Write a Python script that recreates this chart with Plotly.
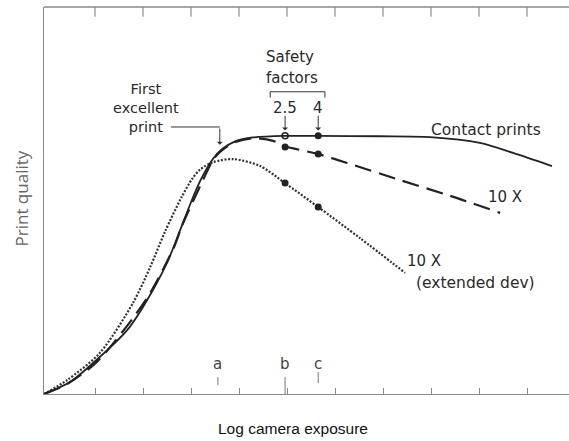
import plotly.graph_objects as go

# ---------------- data ----------------
# x: log camera exposure (one unit per tick), y: print quality (0-100)
contact_x = [-0.06, 0.48, 0.96, 1.67, 2.0, 2.5, 2.81, 3.08, 3.25, 3.46, 3.65, 3.92, 4.29, 4.96, 5.65, 6.94, 7.98, 9.02, 9.71, 10.52]
contact_y = [0, 3.1, 8.0, 16.5, 22.5, 33.9, 43.5, 52.0, 56.5, 60.8, 63.3, 65.3, 66.3, 66.7, 66.7, 66.6, 66.4, 64.9, 62.3, 58.9]

tenx_x = [-0.06, 0.42, 1.04, 1.79, 2.15, 2.63, 2.83, 3.25, 3.46, 3.6, 3.88, 4.29, 4.71, 4.96, 5.65, 6.25, 7.35, 8.4, 9.44]
tenx_y = [0, 2.6, 8.3, 19.6, 26.1, 37.5, 44.0, 55.3, 60.5, 62.5, 64.9, 66.1, 65.4, 64.0, 62.0, 59.7, 55.3, 51.2, 46.8]

ext_x = [-0.06, 0.42, 1.1, 1.79, 2.15, 2.46, 2.81, 3.02, 3.19, 3.46, 3.88, 4.44, 4.96, 5.65, 6.52, 7.46]
ext_y = [0, 3.6, 10.6, 23.5, 32.8, 42.0, 51.0, 55.5, 58.0, 59.9, 60.7, 58.9, 54.5, 48.3, 40.3, 31.3]

# safety-factor exposures (b = 2.5x, c = 4x) and the quality at those points
safety_labels = ["2.5", "4"]
safety_x = [4.96, 5.65]
contact_at_safety = [66.7, 66.7]
tenx_at_safety = [63.8, 62.0]
ext_at_safety = [54.5, 48.3]

# exposure marks on the x axis
mark_labels = ["a", "b", "c"]
mark_x = [3.56, 4.96, 5.65]

first_excellent_x = 3.6
first_excellent_y = 63.8

tick_positions = [1, 2, 3, 4, 5, 6, 7, 8, 9, 10]

# ---------------- figure ----------------
INK = "#222222"
AX = "#8a8a8a"
TXT_FONT = "DejaVu Sans"
TXT_COLOR = "#2a2a2a"
X_RANGE = [-0.0625, 10.875]

fig = go.Figure()

fig.add_trace(go.Scatter(x=ext_x, y=ext_y, mode="lines",
                         line=dict(color="#333333", width=2.2, dash="2px,1.6px",
                                   shape="spline", smoothing=0.8),
                         hoverinfo="skip"))
fig.add_trace(go.Scatter(x=tenx_x, y=tenx_y, mode="lines",
                         line=dict(color=INK, width=2.2, dash="17px,8px",
                                   shape="spline", smoothing=0.8),
                         hoverinfo="skip"))
fig.add_trace(go.Scatter(x=contact_x, y=contact_y, mode="lines",
                         line=dict(color=INK, width=1.8, shape="spline", smoothing=0.8),
                         hoverinfo="skip"))

# markers
fig.add_trace(go.Scatter(x=safety_x[:1], y=contact_at_safety[:1], mode="markers",
                         marker=dict(symbol="circle-open", size=6, color=INK,
                                     line=dict(width=1.5, color=INK))))
fig.add_trace(go.Scatter(x=safety_x[1:], y=contact_at_safety[1:], mode="markers",
                         marker=dict(symbol="circle", size=7, color=INK)))
fig.add_trace(go.Scatter(x=safety_x, y=tenx_at_safety, mode="markers",
                         marker=dict(symbol="circle", size=7, color=INK)))
fig.add_trace(go.Scatter(x=safety_x, y=ext_at_safety, mode="markers",
                         marker=dict(symbol="circle", size=7, color=INK)))

# top border with inward ticks
fig.add_shape(type="line", xref="paper", yref="paper", x0=0, x1=1, y0=1, y1=1,
              line=dict(color=AX, width=1.3))
for tp in tick_positions:
    fig.add_shape(type="line", xref="x", yref="paper", x0=tp, x1=tp, y0=1, y1=0.975,
                  line=dict(color=AX, width=1.2))

# a, b, c marks on the axis
mark_spans = [(2.3, 4.4), (0.0, 4.4), (2.8, 5.7)]
for lab, mx, (y0, y1) in zip(mark_labels, mark_x, mark_spans):
    fig.add_shape(type="line", x0=mx, x1=mx, y0=y0, y1=y1,
                  line=dict(color="#777777", width=1))
    fig.add_annotation(x=mx, y=7.8, text=lab, showarrow=False, yanchor="middle",
                       font=dict(family=TXT_FONT, size=15, color="#444444"))


def txt(x, y, s, size=15, xanchor="center", color=TXT_COLOR):
    fig.add_annotation(x=x, y=y, text=s, showarrow=False, xanchor=xanchor, yanchor="middle",
                       font=dict(family=TXT_FONT, size=size, color=color))


txt(2.07, 74.0, "First<br>excellent<br>print", size=14.5)
txt(5.06, 87.2, "Safety")
txt(5.1, 81.6, "factors")
for lab, sx in zip(safety_labels, safety_x):
    txt(sx, 74.0, lab)
txt(9.15, 68.2, "Contact prints", size=15.5)
txt(9.55, 50.8, "10 X")
txt(7.45, 34.3, "10 X", xanchor="left")
txt(7.65, 28.8, "(extended dev)", xanchor="left", size=15.5)

# first-excellent leader
fig.add_shape(type="line", x0=2.58, x1=first_excellent_x, y0=69.0, y1=69.0,
              line=dict(color="#333333", width=1))
fig.add_annotation(x=first_excellent_x, y=first_excellent_y + 0.6, ax=first_excellent_x, ay=69.0,
                   axref="x", ayref="y", showarrow=True, arrowhead=1, arrowsize=1.0,
                   arrowwidth=1, arrowcolor="#333333", text="")
# safety arrows
for sx, sy in zip(safety_x, contact_at_safety):
    fig.add_annotation(x=sx, y=sy + 1.4, ax=sx, ay=sy + 5.6, axref="x", ayref="y",
                       showarrow=True, arrowhead=1, arrowsize=1.0, arrowwidth=1,
                       arrowcolor="#333333", text="")
# bracket over the safety factors
fig.add_shape(type="path", path="M 4.65,76.6 L 4.65,78.1 L 5.79,78.1 L 5.79,76.6",
              line=dict(color="#333333", width=1))

# axis titles as free text (positions match the reference)
fig.add_annotation(xref="paper", yref="paper", x=0.474, y=-0.09, yanchor="middle",
                   text="Log camera exposure", showarrow=False,
                   font=dict(family="Liberation Sans", size=15.5, color="#111111"))
fig.add_annotation(xref="paper", yref="paper", x=-0.042, y=0.505, xanchor="center",
                   yanchor="middle", textangle=-90, text="Print quality", showarrow=False,
                   font=dict(family="Open Sans", size=17, color="#666666"))

fig.update_layout(
    width=569, height=441,
    margin=dict(l=44, r=0, t=7, b=47),
    paper_bgcolor="white", plot_bgcolor="white",
    showlegend=False,
    xaxis=dict(range=X_RANGE, showgrid=False, zeroline=False,
               showline=True, linecolor=AX, linewidth=1, mirror=False,
               ticks="inside", ticklen=6, tickcolor=AX, tickwidth=1,
               tickvals=tick_positions, showticklabels=False),
    yaxis=dict(range=[0, 100], showgrid=False, zeroline=False,
               showline=True, linecolor=AX, linewidth=1, mirror=False,
               ticks="", showticklabels=False),
)

fig.write_html("out.html", config={"displayModeBar": False},
               post_script="document.body.style.margin='0px';")
